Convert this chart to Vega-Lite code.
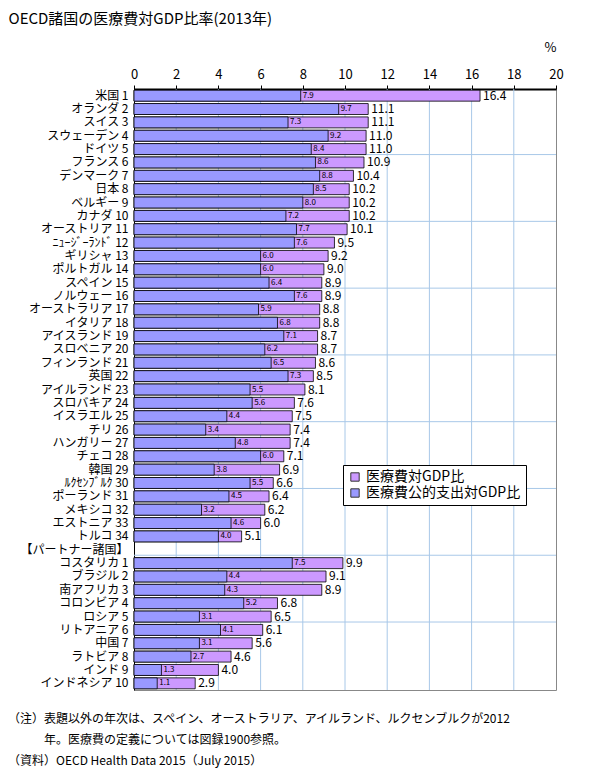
{
  "$schema": "https://vega.github.io/schema/vega-lite/v6.json",
  "width": 422,
  "height": 601,
  "autosize": "none",
  "padding": {"left": 134, "top": 89, "right": 33, "bottom": 85},
  "config": {
    "font": "Noto Sans CJK JP",
    "view": {"stroke": "#888888", "strokeWidth": 1},
    "rule": {"color": "#A8C8E8", "strokeWidth": 1}
  },
  "title": {
    "text": [
      "（注）表題以外の年次は、スペイン、オーストラリア、アイルランド、ルクセンブルクが2012",
      "\u200B\u3000\u3000\u3000年。医療費の定義については図録1900参照。",
      "（資料）OECD Health Data  2015（July 2015）"
    ],
    "orient": "bottom",
    "anchor": "start",
    "frame": "group",
    "dx": -126,
    "offset": 23,
    "baseline": "top",
    "fontSize": 12,
    "fontWeight": "normal",
    "lineHeight": 21,
    "color": "#000000"
  },
  "data": {
    "values": [
      {"country": "米国 1", "total": 16.4, "public": 7.9},
      {"country": "オランダ 2", "total": 11.1, "public": 9.7},
      {"country": "スイス 3", "total": 11.1, "public": 7.3},
      {"country": "スウェーデン 4", "total": 11.0, "public": 9.2},
      {"country": "ドイツ 5", "total": 11.0, "public": 8.4},
      {"country": "フランス 6", "total": 10.9, "public": 8.6},
      {"country": "デンマーク 7", "total": 10.4, "public": 8.8},
      {"country": "日本 8", "total": 10.2, "public": 8.5},
      {"country": "ベルギー 9", "total": 10.2, "public": 8.0},
      {"country": "カナダ 10", "total": 10.2, "public": 7.2},
      {"country": "オーストリア 11", "total": 10.1, "public": 7.7},
      {"country": "ﾆｭｰｼﾞｰﾗﾝﾄﾞ 12", "total": 9.5, "public": 7.6},
      {"country": "ギリシャ 13", "total": 9.2, "public": 6.0},
      {"country": "ポルトガル 14", "total": 9.0, "public": 6.0},
      {"country": "スペイン 15", "total": 8.9, "public": 6.4},
      {"country": "ノルウェー 16", "total": 8.9, "public": 7.6},
      {"country": "オーストラリア 17", "total": 8.8, "public": 5.9},
      {"country": "イタリア 18", "total": 8.8, "public": 6.8},
      {"country": "アイスランド 19", "total": 8.7, "public": 7.1},
      {"country": "スロベニア 20", "total": 8.7, "public": 6.2},
      {"country": "フィンランド 21", "total": 8.6, "public": 6.5},
      {"country": "英国 22", "total": 8.5, "public": 7.3},
      {"country": "アイルランド 23", "total": 8.1, "public": 5.5},
      {"country": "スロバキア 24", "total": 7.6, "public": 5.6},
      {"country": "イスラエル 25", "total": 7.5, "public": 4.4},
      {"country": "チリ 26", "total": 7.4, "public": 3.4},
      {"country": "ハンガリー 27", "total": 7.4, "public": 4.8},
      {"country": "チェコ 28", "total": 7.1, "public": 6.0},
      {"country": "韓国 29", "total": 6.9, "public": 3.8},
      {"country": "ﾙｸｾﾝﾌﾞﾙｸ 30", "total": 6.6, "public": 5.5},
      {"country": "ポーランド 31", "total": 6.4, "public": 4.5},
      {"country": "メキシコ 32", "total": 6.2, "public": 3.2},
      {"country": "エストニア 33", "total": 6.0, "public": 4.6},
      {"country": "トルコ 34", "total": 5.1, "public": 4.0},
      {"country": "コスタリカ 1", "total": 9.9, "public": 7.5},
      {"country": "ブラジル 2", "total": 9.1, "public": 4.4},
      {"country": "南アフリカ 3", "total": 8.9, "public": 4.3},
      {"country": "コロンビア 4", "total": 6.8, "public": 5.2},
      {"country": "ロシア 5", "total": 6.5, "public": 3.1},
      {"country": "リトアニア 6", "total": 6.1, "public": 4.1},
      {"country": "中国 7", "total": 5.6, "public": 3.1},
      {"country": "ラトビア 8", "total": 4.6, "public": 2.7},
      {"country": "インド 9", "total": 4.0, "public": 1.3},
      {"country": "インドネシア 10", "total": 2.9, "public": 1.1}
    ]
  },
  "layer": [
    {"data": {"values": [{}]}, "mark": "rule", "encoding": {"x": {"datum": 2, "type": "quantitative"}}},
    {"data": {"values": [{}]}, "mark": "rule", "encoding": {"x": {"datum": 4, "type": "quantitative"}}},
    {"data": {"values": [{}]}, "mark": "rule", "encoding": {"x": {"datum": 6, "type": "quantitative"}}},
    {"data": {"values": [{}]}, "mark": "rule", "encoding": {"x": {"datum": 8, "type": "quantitative"}}},
    {"data": {"values": [{}]}, "mark": "rule", "encoding": {"x": {"datum": 10, "type": "quantitative"}}},
    {"data": {"values": [{}]}, "mark": "rule", "encoding": {"x": {"datum": 12, "type": "quantitative"}}},
    {"data": {"values": [{}]}, "mark": "rule", "encoding": {"x": {"datum": 14, "type": "quantitative"}}},
    {"data": {"values": [{}]}, "mark": "rule", "encoding": {"x": {"datum": 16, "type": "quantitative"}}},
    {"data": {"values": [{}]}, "mark": "rule", "encoding": {"x": {"datum": 18, "type": "quantitative"}}},
    {"data": {"values": [{}]}, "mark": "rule", "encoding": {"y": {"datum": "ドイツ 5", "type": "nominal", "bandPosition": 1}}},
    {"data": {"values": [{}]}, "mark": "rule", "encoding": {"y": {"datum": "カナダ 10", "type": "nominal", "bandPosition": 1}}},
    {"data": {"values": [{}]}, "mark": "rule", "encoding": {"y": {"datum": "スペイン 15", "type": "nominal", "bandPosition": 1}}},
    {"data": {"values": [{}]}, "mark": "rule", "encoding": {"y": {"datum": "スロベニア 20", "type": "nominal", "bandPosition": 1}}},
    {"data": {"values": [{}]}, "mark": "rule", "encoding": {"y": {"datum": "イスラエル 25", "type": "nominal", "bandPosition": 1}}},
    {"data": {"values": [{}]}, "mark": "rule", "encoding": {"y": {"datum": "ﾙｸｾﾝﾌﾞﾙｸ 30", "type": "nominal", "bandPosition": 1}}},
    {"data": {"values": [{}]}, "mark": "rule", "encoding": {"y": {"datum": "【パートナー諸国】", "type": "nominal", "bandPosition": 1}}},
    {"data": {"values": [{}]}, "mark": "rule", "encoding": {"y": {"datum": "ロシア 5", "type": "nominal", "bandPosition": 1}}},
    {
      "transform": [{"fold": ["total", "public"], "as": ["series", "value"]}],
      "mark": {"type": "bar", "stroke": "#000000", "strokeWidth": 0.8},
      "encoding": {
        "x": {
          "field": "value",
          "type": "quantitative",
          "stack": null,
          "scale": {"domain": [0, 20], "nice": false},
          "axis": {
            "orient": "top",
            "values": [0, 2, 4, 6, 8, 10, 12, 14, 16, 18, 20],
            "labelFlush": false,
            "grid": false,
            "domainColor": "#000000",
            "domainWidth": 2,
            "tickColor": "#000000",
            "tickSize": 4,
            "labelFontSize": 13,
            "labelPadding": 4,
            "labelColor": "#000000",
            "title": "OECD諸国の医療費対GDP比率(2013年)",
            "titleX": -126,
            "titleY": -71,
            "titleAlign": "left",
            "titleAnchor": "start",
            "titleBaseline": "middle",
            "titleFontSize": 15,
            "titleFontWeight": "normal",
            "titleColor": "#000000"
          }
        },
        "y": {
          "field": "country",
          "type": "nominal",
          "scale": {
            "domain": [
              "米国 1", "オランダ 2", "スイス 3", "スウェーデン 4", "ドイツ 5",
              "フランス 6", "デンマーク 7", "日本 8", "ベルギー 9", "カナダ 10",
              "オーストリア 11", "ﾆｭｰｼﾞｰﾗﾝﾄﾞ 12", "ギリシャ 13", "ポルトガル 14", "スペイン 15",
              "ノルウェー 16", "オーストラリア 17", "イタリア 18", "アイスランド 19", "スロベニア 20",
              "フィンランド 21", "英国 22", "アイルランド 23", "スロバキア 24", "イスラエル 25",
              "チリ 26", "ハンガリー 27", "チェコ 28", "韓国 29", "ﾙｸｾﾝﾌﾞﾙｸ 30",
              "ポーランド 31", "メキシコ 32", "エストニア 33", "トルコ 34", "【パートナー諸国】",
              "コスタリカ 1", "ブラジル 2", "南アフリカ 3", "コロンビア 4", "ロシア 5",
              "リトアニア 6", "中国 7", "ラトビア 8", "インド 9", "インドネシア 10"
            ],
            "paddingInner": 0.18,
            "paddingOuter": 0.09
          },
          "axis": {
            "title": "%",
            "titleAngle": 0,
            "titleX": 416,
            "titleY": -42,
            "titleAlign": "center",
            "titleBaseline": "middle",
            "titleFontSize": 13,
            "titleFontWeight": "normal",
            "titleColor": "#000000",
            "ticks": false,
            "grid": false,
            "domainColor": "#000000",
            "labelFontSize": 12,
            "labelPadding": 6,
            "labelColor": "#000000"
          }
        },
        "color": {
          "field": "series",
          "type": "nominal",
          "scale": {"domain": ["total", "public"], "range": ["#CC99FF", "#9999FF"]},
          "legend": {
            "title": null,
            "orient": "none",
            "legendX": 209,
            "legendY": 376,
            "direction": "vertical",
            "fillColor": "#FFFFFF",
            "strokeColor": "#000000",
            "padding": 5,
            "labelExpr": "datum.label == 'total' ? '医療費対GDP比' : '医療費公的支出対GDP比'",
            "labelFontSize": 14,
            "labelColor": "#000000",
            "symbolType": "square",
            "symbolSize": 70,
            "symbolStrokeColor": "#333333",
            "symbolStrokeWidth": 1,
            "symbolOpacity": 1,
            "rowPadding": 2
          }
        }
      }
    },
    {
      "transform": [{"fold": ["total"], "as": ["series", "value"]}],
      "mark": {"type": "text", "align": "left", "baseline": "middle", "dx": 3, "fontSize": 12, "color": "#000000"},
      "encoding": {
        "x": {"field": "value", "type": "quantitative"},
        "y": {"field": "country", "type": "nominal"},
        "text": {"field": "value", "type": "quantitative", "format": ".1f"}
      }
    },
    {
      "transform": [{"fold": ["public"], "as": ["series", "value"]}],
      "mark": {"type": "text", "align": "left", "baseline": "middle", "dx": 2, "fontSize": 8, "color": "#000000"},
      "encoding": {
        "x": {"field": "value", "type": "quantitative"},
        "y": {"field": "country", "type": "nominal"},
        "text": {"field": "value", "type": "quantitative", "format": ".1f"}
      }
    }
  ]
}
